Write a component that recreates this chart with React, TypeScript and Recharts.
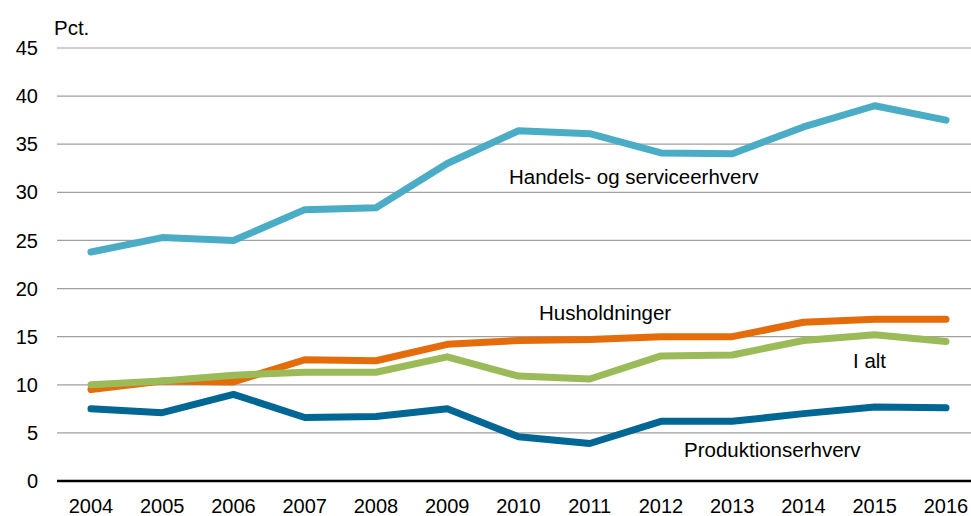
import React from 'react';
import { LineChart, Line, XAxis, YAxis, CartesianGrid } from 'recharts';

const years = ['2004', '2005', '2006', '2007', '2008', '2009', '2010', '2011', '2012', '2013', '2014', '2015', '2016'];
const handel = [23.8, 25.3, 25.0, 28.2, 28.4, 33.0, 36.4, 36.1, 34.1, 34.0, 36.8, 39.0, 37.5];
const husholdninger = [9.5, 10.4, 10.3, 12.6, 12.5, 14.2, 14.6, 14.7, 15.0, 15.0, 16.5, 16.8, 16.8];
const iAlt = [10.0, 10.4, 11.0, 11.3, 11.3, 12.9, 10.9, 10.6, 13.0, 13.1, 14.6, 15.2, 14.5];
const produktion = [7.5, 7.1, 9.0, 6.6, 6.7, 7.5, 4.6, 3.9, 6.2, 6.2, 7.0, 7.7, 7.6];
const yTicks = [0, 5, 10, 15, 20, 25, 30, 35, 40, 45];

const data = years.map((year, i) => ({
    year,
    handel: handel[i],
    husholdninger: husholdninger[i],
    iAlt: iAlt[i],
    produktion: produktion[i],
}));

const font = '"Liberation Sans", Arial, sans-serif';

const labelStyle: React.CSSProperties = {
    position: 'absolute',
    fontFamily: font,
    fontSize: 20.5,
    color: '#000',
    whiteSpace: 'nowrap',
    lineHeight: '20px',
};

export default function App() {
    return (
        <div style={{ position: 'absolute', left: 0, top: 0, width: 971, height: 516, overflow: 'hidden', background: '#fff' }}>
            <LineChart width={990} height={516} data={data} margin={{ top: 48, right: 9, left: 0, bottom: 5 }}>
                <CartesianGrid vertical={false} stroke="#a0a0a0" strokeWidth={1.2} />
                <XAxis
                    dataKey="year"
                    padding={{ left: 34, right: 35 }}
                    axisLine={{ stroke: '#000', strokeWidth: 2.5 }}
                    tickLine={false}
                    tickMargin={12}
                    height={30}
                    interval={0}
                    tick={{ fill: '#000', fontSize: 20, fontFamily: font }}
                />
                <YAxis
                    domain={[0, 45]}
                    ticks={yTicks}
                    width={57}
                    axisLine={false}
                    tickLine={false}
                    tickMargin={13}
                    tick={{ fill: '#000', fontSize: 20, fontFamily: font }}
                />
                <Line dataKey="handel" stroke="#4bacc6" strokeWidth={7} dot={false} strokeLinecap="round" strokeLinejoin="round" isAnimationActive={false} />
                <Line dataKey="produktion" stroke="#006694" strokeWidth={7} dot={false} strokeLinecap="round" strokeLinejoin="round" isAnimationActive={false} />
                <Line dataKey="husholdninger" stroke="#e46c0a" strokeWidth={7} dot={false} strokeLinecap="round" strokeLinejoin="round" isAnimationActive={false} />
                <Line dataKey="iAlt" stroke="#9bbb59" strokeWidth={7} dot={false} strokeLinecap="round" strokeLinejoin="round" isAnimationActive={false} />
            </LineChart>
            <div style={{ ...labelStyle, left: 54, top: 18 }}>Pct.</div>
            <div style={{ ...labelStyle, left: 509, top: 167 }}>Handels- og serviceerhverv</div>
            <div style={{ ...labelStyle, left: 539, top: 303 }}>Husholdninger</div>
            <div style={{ ...labelStyle, left: 853, top: 351 }}>I alt</div>
            <div style={{ ...labelStyle, left: 684, top: 440 }}>Produktionserhverv</div>
        </div>
    );
}
